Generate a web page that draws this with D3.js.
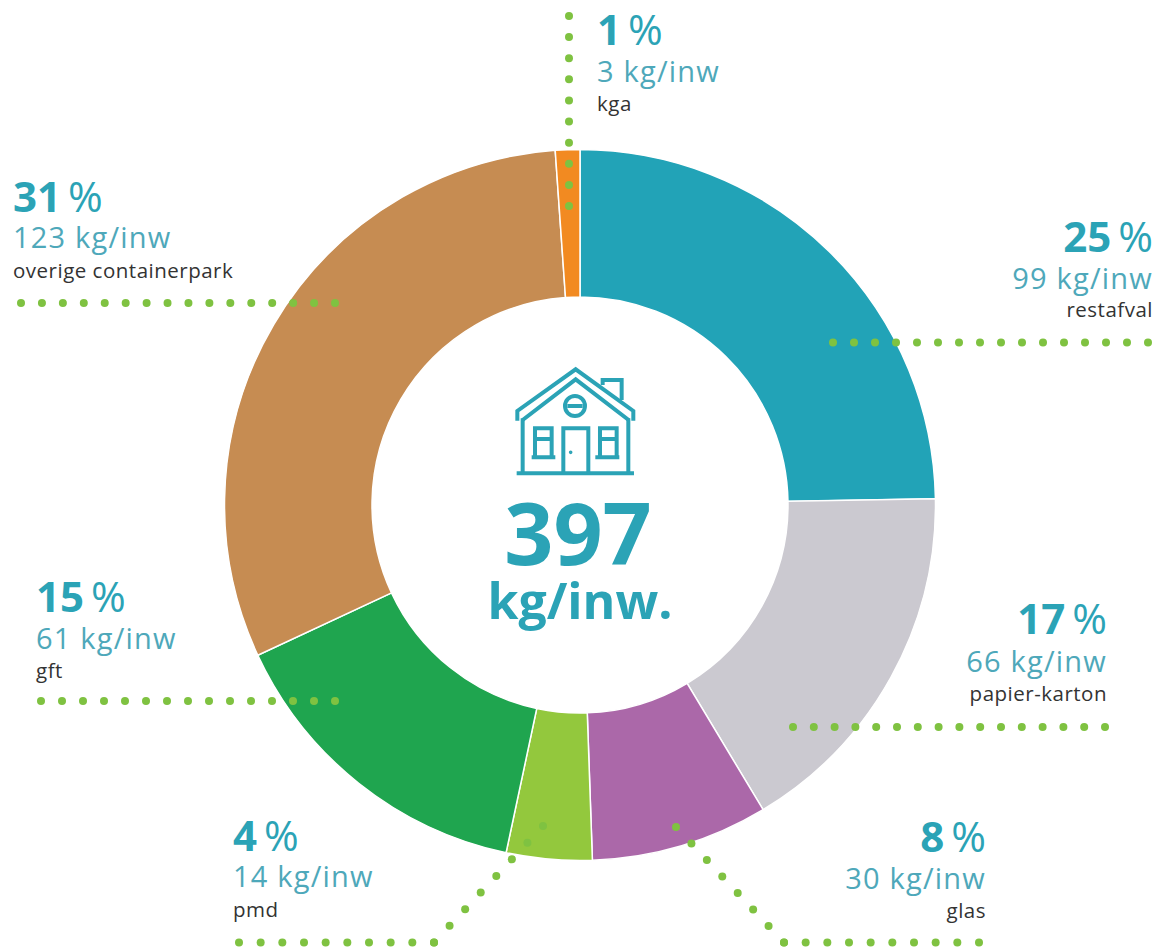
<!DOCTYPE html>
<html lang="en">
<head>
    <meta charset="UTF-8">
    <title>397 kg/inw.</title>
    <script src="https://d3js.org/d3.v7.min.js"></script>
</head>
<style>
    html, body { margin: 0; padding: 0; background: #fff; }
    svg { display: block; }
    text { font-family: "Open Sans", sans-serif; }
    .pct { font-size: 42px; font-weight: 700; fill: #2ba3b6; }
    .pct tspan { font-weight: 400; }
    .kg { font-size: 29px; font-weight: 400; fill: #4ea8ba; letter-spacing: 1.2px; }
    .name { font-size: 20.5px; fill: #333; letter-spacing: 0.5px; }
    .icon path, .icon circle { fill: none; stroke: #2ba3b6; stroke-width: 12; }
</style>
<body>
<div id="output"></div>

<script>

// values
var categories = ["restafval", "papier-karton", "glas", "pmd", "gft", "overige containerpark", "kga"];
var percents = [25, 17, 8, 4, 15, 31, 1];
var kgPerInw = [99, 66, 30, 14, 61, 123, 3];
// the drawn slices do not follow the printed kg exactly, so these are measured off the ring
var sliceSizes = [89, 60, 29, 14, 53, 111, 4];
var colors = ["#22a3b7", "#cbc9d0", "#ab68a9", "#93c83d", "#1fa54f", "#c68c52", "#f28a21"];

var w = 1158;
var h = 949;

var svg = d3.select("#output")
            .append("svg")
            .attr("width", w)
            .attr("height", h);

var centerX = 580;
var centerY = 505;
var outerRadius = 355.5;
var innerRadius = 208;

/*
* Ring
* */
var pie = d3.pie().sort(null);
var arc = d3.arc().innerRadius(innerRadius).outerRadius(outerRadius);

svg.append("g")
    .attr("transform", "translate(" + centerX + "," + centerY + ")")
    .selectAll("path")
    .data(pie(sliceSizes))
    .enter()
    .append("path")
        .attr("d", arc)
        .attr("fill", function(d, i){ return colors[i]; })
        .attr("stroke", "#fff")
        .attr("stroke-width", 1.5);

/*
* Dotted leaders: each segment is [x1, y1, x2, y2, number of gaps]
* */
var leaders = [
    [[1148, 342.5, 833, 342.5, 15]],
    [[1105, 727, 793, 727, 15]],
    [[979, 942.5, 784, 942.5, 9], [784, 942.5, 676, 827, 7]],
    [[239, 942.5, 434, 942.5, 9], [434, 942.5, 543, 826, 7]],
    [[41, 701, 335, 701, 14]],
    [[21, 303, 335, 303, 15]],
    [[569, 16, 569, 206, 9]]
];

var dots = [];
leaders.forEach(function(segments){
    segments.forEach(function(s){
        d3.range(s[4] + 1).forEach(function(k){
            dots.push({
                x: s[0] + (s[2] - s[0]) * k / s[4],
                y: s[1] + (s[3] - s[1]) * k / s[4]
            });
        });
    });
});

svg.append("g")
    .selectAll("circle")
    .data(dots)
    .enter()
    .append("circle")
        .attr("cx", function(d){ return d.x; })
        .attr("cy", function(d){ return d.y; })
        .attr("r", 4)
        .attr("fill", "#7fc241");

/*
* Labels: anchor, x, then baselines of the three lines
* */
var labelPos = [
    ["end", 1153, 252, 289, 317],
    ["end", 1107, 634, 672, 701],
    ["end", 986, 852, 889, 918],
    ["start", 233, 851, 887, 917],
    ["start", 36, 612, 649, 678],
    ["start", 13, 212, 248, 278],
    ["start", 597, 45, 82, 111]
];

var labels = svg.append("g")
    .selectAll("g")
    .data(categories)
    .enter()
    .append("g")
        .attr("text-anchor", function(d, i){ return labelPos[i][0]; });

var pctText = labels.append("text")
    .attr("class", "pct")
    .attr("x", function(d, i){ return labelPos[i][1]; })
    .attr("y", function(d, i){ return labelPos[i][2]; })
    .text(function(d, i){ return percents[i]; });

pctText.append("tspan")
    .attr("dx", 7)
    .text("%");

labels.append("text")
    .attr("class", "kg")
    .attr("x", function(d, i){ return labelPos[i][1]; })
    .attr("y", function(d, i){ return labelPos[i][3]; })
    .text(function(d, i){ return kgPerInw[i] + " kg/inw"; });

labels.append("text")
    .attr("class", "name")
    .attr("x", function(d, i){ return labelPos[i][1]; })
    .attr("y", function(d, i){ return labelPos[i][4]; })
    .text(function(d){ return d; });

/*
* Center
* */
var center = svg.append("g").attr("text-anchor", "middle");

center.append("text")
    .attr("x", 578)
    .attr("y", 565)
    .style("font-size", "86px")
    .style("font-weight", 700)
    .attr("fill", "#2ba3b6")
    .text("397");

center.append("text")
    .attr("x", 580)
    .attr("y", 619)
    .style("font-size", "50px")
    .style("font-weight", 700)
    .attr("fill", "#2ba3b6")
    .text("kg/inw.");

// house icon, drawn in 3x units
var icon = svg.append("g")
    .attr("class", "icon")
    .attr("transform", "translate(480,340) scale(0.3333)");

[
    "M112 242 V213 L287 88 L460 213 V242",
    "M128 240 L287 118 L446 240",
    "M368 135 V120 H425 V180",
    "M128 235 V400 M445 235 V400 M110 400 H462",
    "M250 400 V265 H325 V400",
    "M165 350 V265 H215 V350 M165 297 H215 M155 352 H226",
    "M360 350 V265 H410 V350 M360 297 H410 M346 352 H418",
    "M262 198 H308"
].forEach(function(d){
    icon.append("path").attr("d", d);
});

icon.append("circle").attr("cx", 285).attr("cy", 198).attr("r", 30);
icon.append("circle").attr("cx", 272).attr("cy", 337).attr("r", 3).style("stroke-width", 5);

</script>
</body>
</html>
